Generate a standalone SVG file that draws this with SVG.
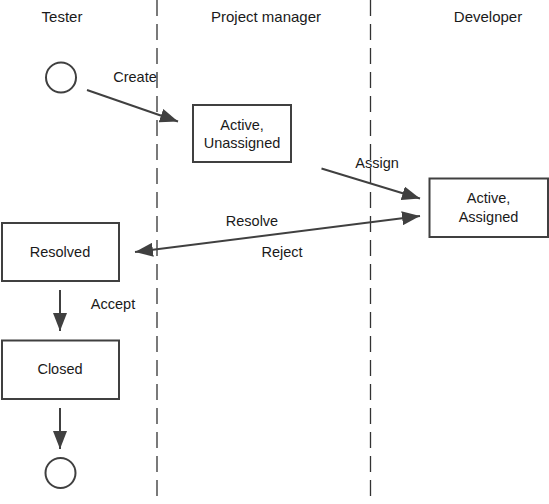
<svg xmlns="http://www.w3.org/2000/svg" width="549" height="504" viewBox="0 0 549 504">
<style>
text{font-family:"Liberation Sans",Arial,sans-serif;font-size:14.5px;fill:#1a1a1a;text-anchor:middle}
.h{font-size:15px}
.box{fill:#fff;stroke:#404040;stroke-width:2}
.lane{stroke:#333;stroke-width:1.3;stroke-dasharray:16 8}
.c{fill:none;stroke:#404040;stroke-width:2}
.e{fill:none;stroke:#404040;stroke-width:2}
</style>
<defs>
<marker id="ah" markerUnits="userSpaceOnUse" markerWidth="20" markerHeight="14" refX="18" refY="7" orient="auto-start-reverse">
<path d="M0,0 L18,7 L0,14 Z" fill="#404040"/>
</marker>
</defs>
<rect width="549" height="504" fill="#fff"/>
<g id="lanes">
<line class="lane" x1="157" y1="0" x2="157" y2="497"/>
<line class="lane" x1="370.5" y1="0" x2="370.5" y2="497"/>
<text class="h" x="62" y="22">Tester</text>
<text class="h" x="266" y="22">Project manager</text>
<text class="h" x="488" y="22">Developer</text>
</g>
<g id="connectors">
<line class="e" x1="87" y1="90" x2="178" y2="121.5" marker-end="url(#ah)"/>
<text x="135" y="82">Create</text>
<line class="e" x1="321.5" y1="168.5" x2="420" y2="198.5" marker-end="url(#ah)"/>
<text x="377" y="168">Assign</text>
<line class="e" x1="135" y1="252" x2="420" y2="216" marker-start="url(#ah)" marker-end="url(#ah)"/>
<text x="252" y="226">Resolve</text>
<text x="282" y="257">Reject</text>
<line class="e" x1="60" y1="290" x2="60" y2="331" marker-end="url(#ah)"/>
<text x="113" y="309">Accept</text>
<line class="e" x1="60" y1="408" x2="60" y2="449" marker-end="url(#ah)"/>
</g>
<g id="start"><circle class="c" cx="61" cy="77.5" r="15"/></g>
<g id="unassigned">
<rect class="box" x="193" y="105" width="98" height="57"/>
<text x="242" y="130">Active,</text>
<text x="242" y="148">Unassigned</text>
</g>
<g id="assigned">
<rect class="box" x="429.5" y="178.5" width="118.5" height="58.5"/>
<text x="488.5" y="203">Active,</text>
<text x="488.5" y="222">Assigned</text>
</g>
<g id="resolved">
<rect class="box" x="2" y="223" width="117" height="58"/>
<text x="60" y="257">Resolved</text>
</g>
<g id="closed">
<rect class="box" x="2" y="340.5" width="117" height="58.5"/>
<text x="60" y="374">Closed</text>
</g>
<g id="end"><circle class="c" cx="60.5" cy="473" r="15"/></g>
</svg>
